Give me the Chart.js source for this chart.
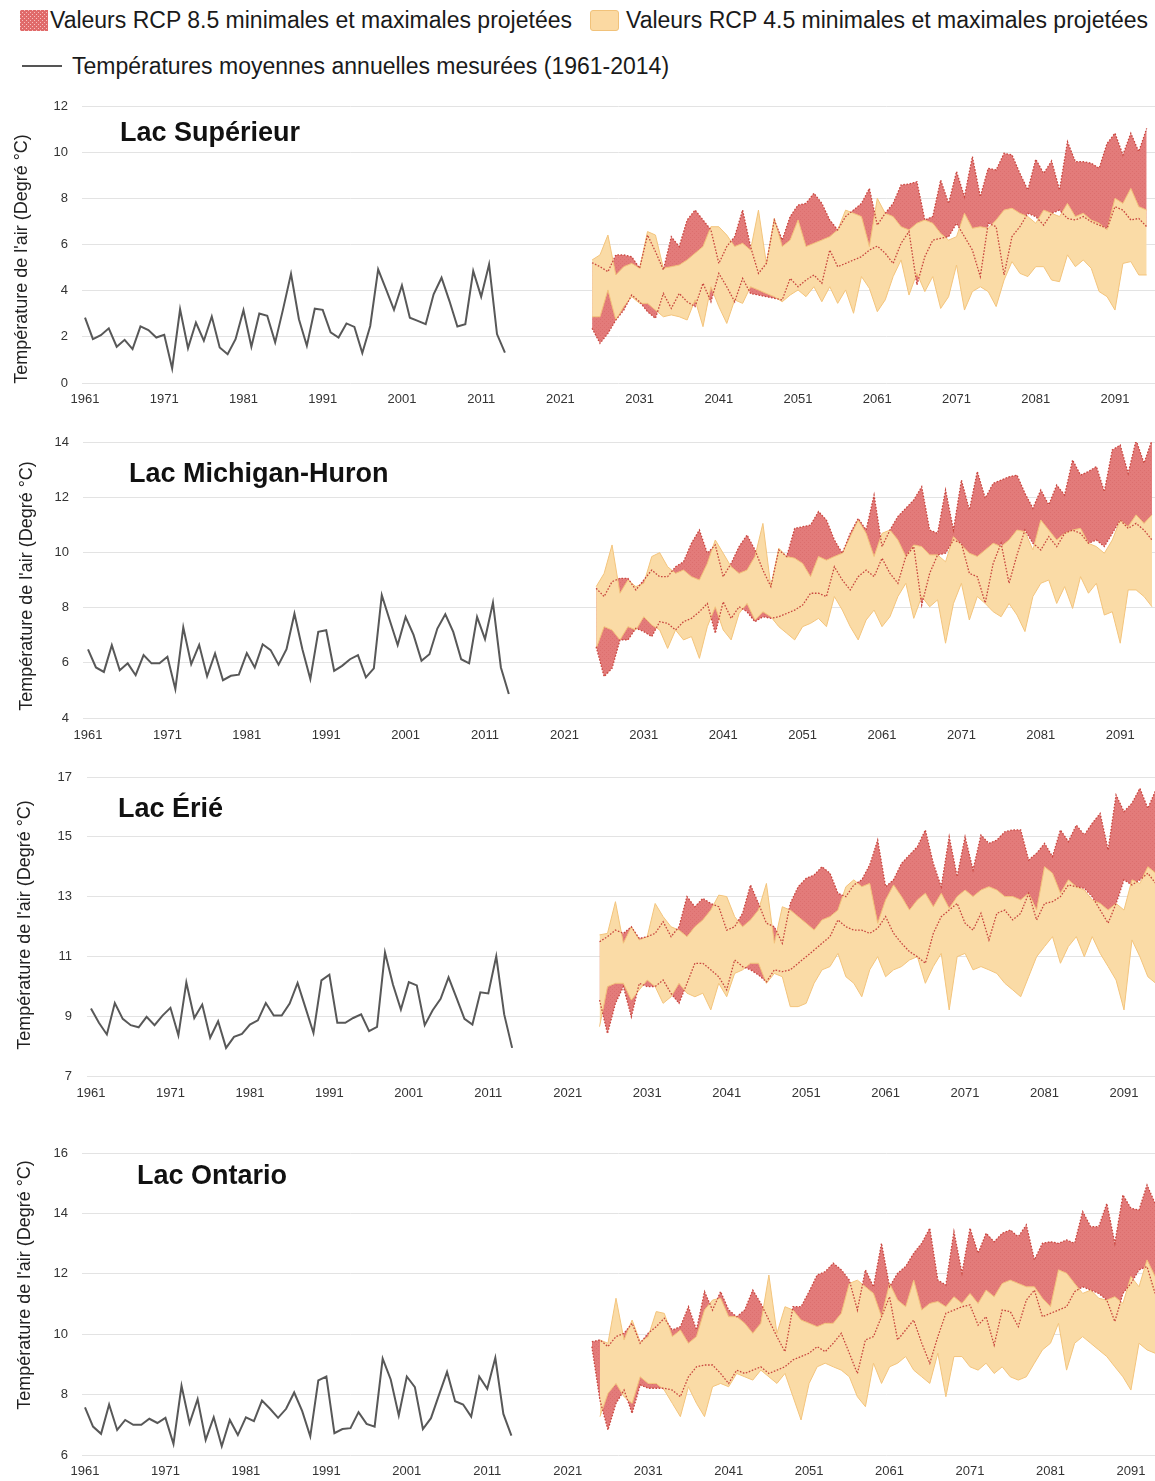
<!DOCTYPE html>
<html><head><meta charset="utf-8">
<script src="https://cdn.jsdelivr.net/npm/chart.js@4.4.1/dist/chart.umd.min.js"></script>
<style>
html,body{margin:0;padding:0;background:#fff;}
body{width:1155px;height:1481px;position:relative;overflow:hidden;font-family:"Liberation Sans",Arial,sans-serif;}
.panel{position:absolute;left:0;width:1155px;}
.lg{position:absolute;font-size:23px;line-height:23px;color:#1a1a1a;white-space:nowrap;}
</style></head><body>
<canvas id="sw85" width="28" height="21" style="position:absolute;left:20px;top:10px;width:28px;height:21px"></canvas>
<div class="lg" style="left:50px;top:9px">Valeurs RCP 8.5 minimales et maximales projetées</div>
<div style="position:absolute;left:590px;top:10px;width:29px;height:21px;background:#FBD9A2;border:1px solid #F1C27A;border-radius:3px;box-sizing:border-box"></div>
<div class="lg" style="left:626px;top:9px">Valeurs RCP 4.5 minimales et maximales projetées</div>
<div style="position:absolute;left:22px;top:65px;width:40px;height:2px;background:#555"></div>
<div class="lg" style="left:72px;top:55px">Températures moyennes annuelles mesurées (1961-2014)</div>

<div class="panel" style="top:95px;height:320px"><canvas id="c1"></canvas></div>
<div class="panel" style="top:430px;height:320px"><canvas id="c2"></canvas></div>
<div class="panel" style="top:765px;height:345px"><canvas id="c3"></canvas></div>
<div class="panel" style="top:1140px;height:341px"><canvas id="c4"></canvas></div>

<script>
// ---------- categories ----------
const histYears = [1961,1962,1963,1964,1965,1966,1967,1968,1969,1970,1971,1972,1973,1974,1975,1976,1977,1978,1979,1980,1981,1982,1983,1984,1985,1986,1987,1988,1989,1990,1991,1992,1993,1994,1995,1996,1997,1998,1999,2000,2001,2002,2003,2004,2005,2006,2007,2008,2009,2010,2011,2012,2013,2014];
const projYears = [2025,2026,2027,2028,2029,2030,2031,2032,2033,2034,2035,2036,2037,2038,2039,2040,2041,2042,2043,2044,2045,2046,2047,2048,2049,2050,2051,2052,2053,2054,2055,2056,2057,2058,2059,2060,2061,2062,2063,2064,2065,2066,2067,2068,2069,2070,2071,2072,2073,2074,2075,2076,2077,2078,2079,2080,2081,2082,2083,2084,2085,2086,2087,2088,2089,2090,2091,2092,2093,2094,2095];
const ontarioR85Years = [2024,2025,2026,2027,2028,2029,2030,2031,2032,2033,2034,2035,2036,2037,2038,2039,2040,2041,2042,2043,2044,2045,2046,2047,2048,2049,2050,2051,2052,2053,2054,2055,2056,2057,2058,2059,2060,2061,2062,2063,2064,2065,2066,2067,2068,2069,2070,2071,2072,2073,2074,2075,2076,2077,2078,2079,2080,2081,2082,2083,2084,2085,2086,2087,2088,2089,2090,2091,2092,2093,2094,2095];
const xTickYears = [1961,1971,1981,1991,2001,2011,2021,2031,2041,2051,2061,2071,2081,2091];
const xTickLabels = ['1961','1971','1981','1991','2001','2011','2021','2031','2041','2051','2061','2071','2081','2091'];
const supYTicks = [0,2,4,6,8,10,12];
const michYTicks = [4,6,8,10,12,14];
const erieYTicks = [7,9,11,13,15,17];
const ontYTicks = [6,8,10,12,14,16];
const panelNames = ['Lac Supérieur','Lac Michigan-Huron','Lac Érié','Lac Ontario'];
const yAxisTitle = "Température de l'air (Degré °C)";

// ---------- Lac Supérieur ----------
const supHist = [2.83,1.90,2.07,2.37,1.57,1.87,1.47,2.45,2.29,1.97,2.09,0.63,3.19,1.51,2.62,1.83,2.88,1.54,1.25,1.90,3.15,1.57,3.01,2.91,1.76,3.20,4.73,2.76,1.61,3.22,3.17,2.19,1.97,2.58,2.43,1.30,2.47,4.92,4.06,3.17,4.23,2.83,2.69,2.55,3.84,4.56,3.55,2.45,2.55,4.85,3.74,5.14,2.12,1.32];
const supR85Max = [5.21,5.04,4.82,5.55,5.55,5.47,4.97,6.41,5.69,4.90,6.34,5.91,7.06,7.49,7.06,6.63,5.18,5.91,6.34,7.49,5.91,4.75,5.18,7.06,6.19,7.21,7.71,7.78,8.22,7.78,7.06,6.63,7.21,7.49,7.78,8.43,6.84,7.35,7.78,8.58,8.62,8.72,7.06,7.21,8.79,7.78,9.16,8.07,9.81,8.07,9.30,9.23,9.95,9.88,9.08,8.36,9.69,9.08,9.62,8.36,10.45,9.59,9.59,9.52,9.30,10.38,10.82,9.88,10.82,10.02,11.03];
const supR85Min = [2.37,1.72,2.15,2.73,3.16,3.81,3.52,3.09,2.80,3.88,3.23,3.88,3.52,3.31,4.32,3.52,4.75,4.17,3.52,4.53,3.88,3.81,3.74,3.67,3.60,4.53,4.17,4.46,4.68,4.32,5.76,5.04,5.18,5.33,5.47,5.76,5.93,5.62,5.18,6.05,6.56,4.25,5.47,6.19,6.27,6.34,6.92,6.34,5.76,4.61,6.92,6.77,4.68,6.34,6.77,7.35,7.21,6.84,7.35,7.49,7.13,7.06,7.21,6.99,6.84,6.70,7.64,7.49,7.06,7.13,6.77];
const supR45Max = [5.33,5.55,6.41,4.68,5.04,5.18,4.97,6.56,6.41,4.97,5.04,5.11,5.33,5.62,5.91,6.77,6.77,6.41,5.91,6.05,5.76,7.49,5.18,7.13,5.91,6.19,7.06,5.91,6.05,6.19,6.34,6.63,7.49,7.35,7.21,5.91,8.00,7.35,7.21,6.77,6.63,6.92,7.06,6.92,6.48,6.19,6.34,7.35,6.70,6.77,6.70,7.06,7.49,7.57,7.35,7.21,6.92,7.49,7.35,7.21,7.78,7.21,7.35,7.06,6.92,6.63,8.00,7.78,8.43,7.64,7.49];
const supR45Min = [2.87,2.87,4.03,2.73,3.31,3.74,3.45,3.45,3.16,2.87,2.95,2.87,2.73,3.60,2.44,4.17,3.31,2.58,3.60,3.45,4.17,4.03,3.88,3.74,3.52,3.81,4.03,3.74,4.17,3.52,4.17,3.45,4.03,3.02,4.61,4.10,3.09,3.60,4.61,5.33,3.81,4.75,3.96,4.61,3.23,3.74,5.11,3.16,3.96,4.17,3.96,3.31,4.46,5.26,4.75,4.61,5.04,5.04,4.46,4.39,5.55,5.04,5.33,4.97,3.96,3.74,3.16,5.18,5.26,4.68,4.68];

// ---------- Lac Michigan-Huron ----------
const michHist = [6.49,5.83,5.67,6.64,5.73,5.98,5.55,6.28,5.98,5.98,6.22,5.05,7.28,5.95,6.65,5.51,6.34,5.37,5.53,5.57,6.35,5.83,6.67,6.46,5.93,6.49,7.78,6.49,5.41,7.12,7.18,5.71,5.89,6.13,6.28,5.47,5.80,8.45,7.54,6.64,7.66,7.01,6.07,6.31,7.24,7.76,7.12,6.13,5.98,7.66,6.86,8.18,5.83,4.87];
const michR85Max = [8.70,8.40,8.94,9.06,9.06,8.64,9.00,9.36,9.12,9.12,9.48,9.66,10.33,10.81,9.97,10.27,9.12,9.60,10.21,10.63,10.09,9.36,8.76,10.09,9.85,10.87,10.93,10.99,11.48,11.17,10.45,9.97,10.69,11.23,10.81,12.08,10.21,10.81,11.30,11.60,11.90,12.38,10.81,10.69,12.26,10.81,12.62,11.54,12.93,11.96,12.50,12.62,12.74,12.80,12.14,11.60,12.26,11.72,12.44,12.08,13.35,12.80,12.93,13.11,12.20,13.71,13.89,12.86,14.07,13.23,14.07];
const michR85Min = [6.58,5.50,5.80,6.83,6.83,7.25,7.13,6.95,7.49,7.43,7.19,7.49,7.61,7.85,8.15,7.07,8.21,7.61,8.03,7.85,7.49,7.67,7.61,7.67,7.79,7.91,8.09,8.52,8.52,8.40,9.48,9.00,8.64,9.12,9.36,9.12,9.79,9.24,8.88,9.85,10.21,8.09,9.24,9.91,9.97,10.45,10.33,9.24,9.12,8.17,9.60,10.33,8.88,9.91,10.81,10.33,10.09,10.57,10.21,10.69,10.81,10.69,10.33,10.45,10.21,10.69,11.17,10.87,11.05,10.81,10.45];
const michR45Max = [8.76,9.24,10.27,8.52,9.00,8.76,8.88,9.85,9.99,9.48,9.24,9.36,9.12,9.00,9.60,10.45,9.97,9.48,9.24,9.36,9.85,11.05,8.76,10.15,9.85,9.79,9.60,9.12,9.85,9.72,9.85,9.97,10.57,11.17,10.69,9.85,10.69,10.81,10.45,9.85,10.27,10.21,9.91,9.91,9.66,10.57,10.27,9.97,9.85,10.09,10.33,10.21,10.45,10.81,10.75,10.09,11.17,10.81,10.45,10.69,10.81,10.87,10.33,10.21,9.97,10.45,11.17,10.93,11.36,11.05,11.36];
const michR45Min = [6.52,7.31,7.19,6.83,7.31,7.19,7.67,7.37,7.19,6.52,7.19,6.83,6.95,6.16,7.31,8.03,7.19,6.83,7.79,8.15,7.55,7.85,7.67,7.31,7.07,6.83,7.31,7.43,7.61,7.31,8.40,7.91,7.31,6.83,7.55,7.91,7.31,7.67,8.40,8.88,7.61,8.40,8.03,8.28,6.71,8.15,8.88,7.55,8.40,8.15,7.85,7.67,8.15,7.73,7.13,8.40,8.88,9.00,8.15,8.76,7.97,9.12,8.52,8.88,7.73,7.85,6.71,8.64,8.64,8.40,8.03];

// ---------- Lac Érié ----------
const erieHist = [9.26,8.78,8.39,9.44,8.91,8.70,8.63,8.98,8.70,9.02,9.28,8.36,10.13,8.94,9.39,8.28,8.83,7.94,8.31,8.41,8.72,8.86,9.44,9.02,9.02,9.42,10.11,9.28,8.44,10.20,10.39,8.78,8.78,8.94,9.06,8.50,8.64,11.13,10.06,9.22,10.14,10.03,8.70,9.20,9.58,10.30,9.61,8.91,8.72,9.80,9.76,11.00,9.06,7.94];
const erieR85Max = [11.49,11.66,11.88,11.77,11.99,11.60,11.66,11.77,12.16,11.66,11.99,13.00,12.66,12.94,12.77,12.66,11.88,11.99,12.44,13.39,12.77,12.11,11.99,11.44,12.77,13.33,13.61,13.72,14.00,13.78,13.11,13.00,13.39,13.56,14.06,14.89,13.33,13.56,14.11,14.39,14.67,15.23,14.11,13.33,15.00,13.67,15.00,13.89,15.06,14.78,14.89,15.17,15.23,15.23,14.22,14.45,14.78,14.34,15.23,14.84,15.39,15.06,15.45,15.78,14.56,16.40,15.84,16.12,16.62,15.95,16.57];
const erieR85Min = [9.54,8.42,9.43,9.99,8.98,10.10,9.99,9.99,10.21,9.76,9.43,10.10,10.77,10.77,10.55,10.32,9.88,10.88,10.66,10.55,10.38,10.15,10.55,10.49,10.55,10.77,10.99,11.21,11.44,11.66,12.22,11.99,11.88,11.88,11.77,11.94,12.33,11.77,11.44,11.16,10.99,10.77,11.77,12.33,12.55,12.77,12.11,11.88,12.44,11.55,12.44,12.55,12.22,12.44,13.11,12.22,12.77,12.83,13.00,13.39,13.33,13.28,13.00,12.55,12.11,12.77,13.56,13.39,13.56,13.78,13.44];
const erieR45Max = [11.72,11.77,12.83,11.44,11.99,11.55,11.66,12.77,12.33,11.99,11.88,11.66,11.99,12.22,12.55,13.05,13.00,12.33,11.99,12.22,12.55,13.44,11.44,12.66,12.55,12.33,12.11,11.88,12.22,12.33,12.55,13.33,13.56,13.33,13.44,12.11,12.89,13.39,13.00,12.55,12.89,13.11,12.66,13.11,12.61,13.00,13.22,13.00,13.22,13.33,13.22,13.00,13.00,12.89,13.11,12.55,14.00,13.78,13.11,13.56,13.33,13.22,12.89,12.77,12.55,12.77,12.55,13.56,13.44,14.00,13.78];
const erieR45Min = [8.65,9.99,10.10,10.10,9.54,9.88,10.21,9.99,9.43,9.65,10.10,9.77,9.65,9.77,9.21,10.10,9.65,10.43,10.55,10.77,10.77,10.10,10.43,10.32,9.32,9.32,9.43,10.10,10.55,10.66,11.10,10.32,10.10,9.65,10.55,10.99,10.32,10.55,10.66,10.88,10.99,10.10,10.66,11.10,9.21,10.99,11.10,10.55,10.66,10.55,10.43,10.10,9.88,9.65,10.32,10.99,11.33,11.66,10.77,11.33,11.66,10.99,11.66,11.10,10.66,10.21,9.21,11.55,10.99,10.32,10.10];

// ---------- Lac Ontario ----------
const ontHist = [7.58,6.94,6.70,7.67,6.83,7.16,7.00,7.00,7.20,7.06,7.23,6.37,8.29,7.05,7.85,6.50,7.25,6.29,7.16,6.66,7.25,7.12,7.80,7.53,7.23,7.53,8.07,7.45,6.62,8.47,8.60,6.72,6.86,6.89,7.42,7.03,6.94,9.19,8.50,7.31,8.60,8.25,6.86,7.22,7.99,8.75,7.78,7.67,7.27,8.60,8.19,9.22,7.36,6.64];
const ontR85Max = [9.75,9.81,9.59,9.92,10.03,10.36,9.70,10.03,10.25,10.53,10.14,10.25,10.91,10.14,11.41,10.80,11.41,10.80,10.58,10.80,11.46,11.02,10.47,9.92,9.42,10.91,10.91,11.41,11.96,12.07,12.35,12.13,11.79,10.80,12.13,11.57,13.01,11.57,12.02,12.24,12.68,13.01,13.51,11.79,11.63,13.40,12.02,13.51,12.68,13.34,13.06,13.34,13.45,13.23,13.62,12.46,13.01,13.06,13.01,13.12,13.01,14.06,13.56,13.56,14.33,13.01,14.61,14.17,14.11,14.94,14.33,14.77];
const ontR85Min = [9.59,7.82,6.83,7.71,8.15,7.38,8.32,8.21,8.21,8.21,8.15,7.93,8.59,8.92,8.98,8.98,8.70,8.37,8.81,8.70,8.81,8.92,8.70,8.81,8.92,9.15,9.26,9.37,9.59,9.42,9.70,10.03,9.37,8.70,9.81,9.92,10.58,11.24,9.81,10.14,10.47,9.70,9.04,9.92,10.69,10.80,10.91,10.97,10.30,10.58,9.64,10.80,10.75,10.25,11.13,11.46,10.58,10.69,10.80,10.91,11.41,11.57,11.46,11.35,11.13,10.42,11.35,11.68,12.13,12.24,11.35,11.57];
const ontR45Max = [9.81,9.70,11.19,9.81,10.47,9.75,9.92,10.75,10.69,9.92,10.14,9.70,9.92,10.80,11.13,11.19,10.58,10.58,10.36,10.03,10.36,11.96,10.03,10.91,10.80,10.47,10.36,10.25,10.36,10.36,10.69,11.68,11.79,11.57,11.35,10.58,11.68,11.13,10.91,11.79,10.80,11.02,11.08,10.91,11.24,11.02,11.35,11.02,11.46,11.24,11.68,11.79,11.68,11.57,11.57,11.19,10.91,12.13,12.02,11.68,11.35,11.46,11.19,11.13,11.24,11.02,11.91,11.57,12.46,11.91,12.13];
const ontR45Min = [7.27,8.04,8.37,7.93,7.71,8.59,8.37,8.37,8.15,7.71,7.27,8.26,7.71,7.27,8.26,8.37,8.26,8.70,8.59,8.48,8.81,8.59,8.37,8.70,7.93,7.16,8.37,8.92,9.04,8.92,8.81,8.59,7.93,7.60,9.04,8.37,8.92,9.04,9.26,8.81,8.59,8.37,9.37,7.93,9.26,9.26,8.92,8.81,9.04,8.70,8.92,8.59,8.48,8.59,9.04,9.48,9.70,10.36,8.81,9.70,9.92,9.70,9.48,9.26,8.92,8.59,8.15,9.70,9.48,9.37,9.26];

// ---------- helpers ----------
const FONT = '"Liberation Sans", Arial, sans-serif';
function pairs(xs, ys){ return ys.map((v,i)=>({x: xs[i], y: v})); }

function makeRedPattern(strong){
  const pc = document.createElement('canvas'); pc.width = 4; pc.height = 4;
  const g = pc.getContext('2d');
  g.fillStyle = strong ? '#E06A6A' : '#E37B7A'; g.fillRect(0,0,4,4);
  g.fillStyle = strong ? 'rgba(255,220,220,0.75)' : 'rgba(205,90,90,0.35)';
  g.fillRect(0,0,1,1); g.fillRect(2,2,1,1);
  return g.createPattern(pc,'repeat');
}
const redPattern = makeRedPattern(false);
(function(){
  const c = document.getElementById('sw85'); const g = c.getContext('2d');
  g.fillStyle = makeRedPattern(true); g.fillRect(0,0,28,21);
})();

const textPlugin = {
  id: 'panelText',
  afterDatasetsDraw(chart, args, o){
    const {ctx, chartArea} = chart;
    ctx.save();
    ctx.fillStyle = '#111';
    ctx.font = 'bold 27px ' + FONT;
    ctx.textAlign = 'left'; ctx.textBaseline = 'middle';
    ctx.fillText(o.name, chartArea.left + o.dx, chartArea.top + o.dy);
    ctx.translate(o.tx, o.ty);
    ctx.rotate(-Math.PI/2);
    ctx.font = '18px ' + FONT;
    ctx.fillStyle = '#222';
    ctx.textAlign = 'center';
    ctx.fillText(yAxisTitle, 0, 0);
    ctx.restore();
  }
};

function makeChart(id, p){
  const datasets = [
    {data: pairs(histYears, p.hist), borderColor:'#585858', borderWidth:2, pointRadius:0, fill:false, order:0},
    {data: pairs(p.y85, p.r85max), borderColor:'#C8463E', borderWidth:1.3, borderDash:[1.6,1.6], pointRadius:0, fill:false, order:1},
    {data: pairs(p.y85, p.r85min), borderColor:'#C8463E', borderWidth:1.3, borderDash:[1.6,1.6], pointRadius:0, fill:false, order:1},
    {data: pairs(projYears, p.r45max), borderColor:'#F3C47C', borderWidth:1, pointRadius:0, fill:false, order:2},
    {data: pairs(projYears, p.r45min), borderColor:'#F3C47C', borderWidth:1, pointRadius:0, fill:{target:3}, backgroundColor:'#FADBA6', order:2},
    {data: pairs(p.y85, p.r85max), borderWidth:0, borderColor:'rgba(0,0,0,0)', pointRadius:0, fill:false, order:3},
    {data: pairs(p.y85, p.r85min), borderWidth:0, borderColor:'rgba(0,0,0,0)', pointRadius:0, fill:{target:5}, backgroundColor: redPattern, order:3}
  ];
  return new Chart(document.getElementById(id), {
    type: 'line',
    data: { datasets },
    plugins: [textPlugin],
    options: {
      responsive: true, maintainAspectRatio: false, animation: false, devicePixelRatio: 1,
      layout: { padding: { top: p.padTop, left: 0, right: 0, bottom: 0 } },
      elements: { line: { tension: 0 } },
      plugins: {
        legend: { display: false }, tooltip: { enabled: false },
        filler: { propagate: false },
        panelText: { name: p.name, dx: p.dx, dy: p.dy, tx: p.tx, ty: p.ty }
      },
      scales: {
        x: {
          type: 'linear', min: p.xmin, max: p.xmax,
          afterBuildTicks: s => { s.ticks = xTickYears.map(v => ({value: v})); },
          afterFit: s => { s.height = p.xAxisH; s.paddingLeft = 0; s.paddingRight = 0; },
          ticks: { autoSkip: false, maxRotation: 0, padding: p.xPad, color: '#333',
                   font: { size: 13, family: FONT },
                   callback: (v, i) => xTickLabels[i] },
          grid: { display: false, drawTicks: false }, border: { display: false }
        },
        y: {
          min: p.yTicks[0], max: p.yTicks[p.yTicks.length-1],
          afterBuildTicks: s => { s.ticks = p.yTicks.map(v => ({value: v})); },
          afterFit: s => { s.width = p.left; s.paddingTop = 0; s.paddingBottom = 0; },
          ticks: { padding: p.yPad, color: '#333', font: { size: 13, family: FONT },
                   callback: (v, i) => String(p.yTicks[i]) },
          grid: { color: '#E3E3E3', lineWidth: 1, drawTicks: false }, border: { display: false }
        }
      }
    }
  });
}

makeChart('c1', {hist: supHist, y85: projYears, r85max: supR85Max, r85min: supR85Min, r45max: supR45Max, r45min: supR45Min,
  name: panelNames[0], yTicks: supYTicks, left: 82, padTop: 11, xAxisH: 32, xPad: 9, yPad: 14,
  xmin: 1960.62, xmax: 2096.05, dx: 38, dy: 28, tx: 22, ty: 164});
makeChart('c2', {hist: michHist, y85: projYears, r85max: michR85Max, r85min: michR85Min, r45max: michR45Max, r45min: michR45Min,
  name: panelNames[1], yTicks: michYTicks, left: 83, padTop: 12, xAxisH: 32, xPad: 10, yPad: 14,
  xmin: 1960.37, xmax: 2095.38, dx: 46, dy: 33, tx: 27, ty: 156});
makeChart('c3', {hist: erieHist, y85: projYears, r85max: erieR85Max, r85min: erieR85Min, r45max: erieR45Max, r45min: erieR45Min,
  name: panelNames[2], yTicks: erieYTicks, left: 87, padTop: 12, xAxisH: 34, xPad: 10, yPad: 15,
  xmin: 1960.50, xmax: 2094.9, dx: 31, dy: 33, tx: 25, ty: 160});
makeChart('c4', {hist: ontHist, y85: ontarioR85Years, r85max: ontR85Max, r85min: ontR85Min, r45max: ontR45Max, r45min: ontR45Min,
  name: panelNames[3], yTicks: ontYTicks, left: 82, padTop: 13, xAxisH: 26, xPad: 9, yPad: 14,
  xmin: 1960.63, xmax: 2093.99, dx: 55, dy: 24, tx: 25, ty: 145});
</script>
</body></html>
